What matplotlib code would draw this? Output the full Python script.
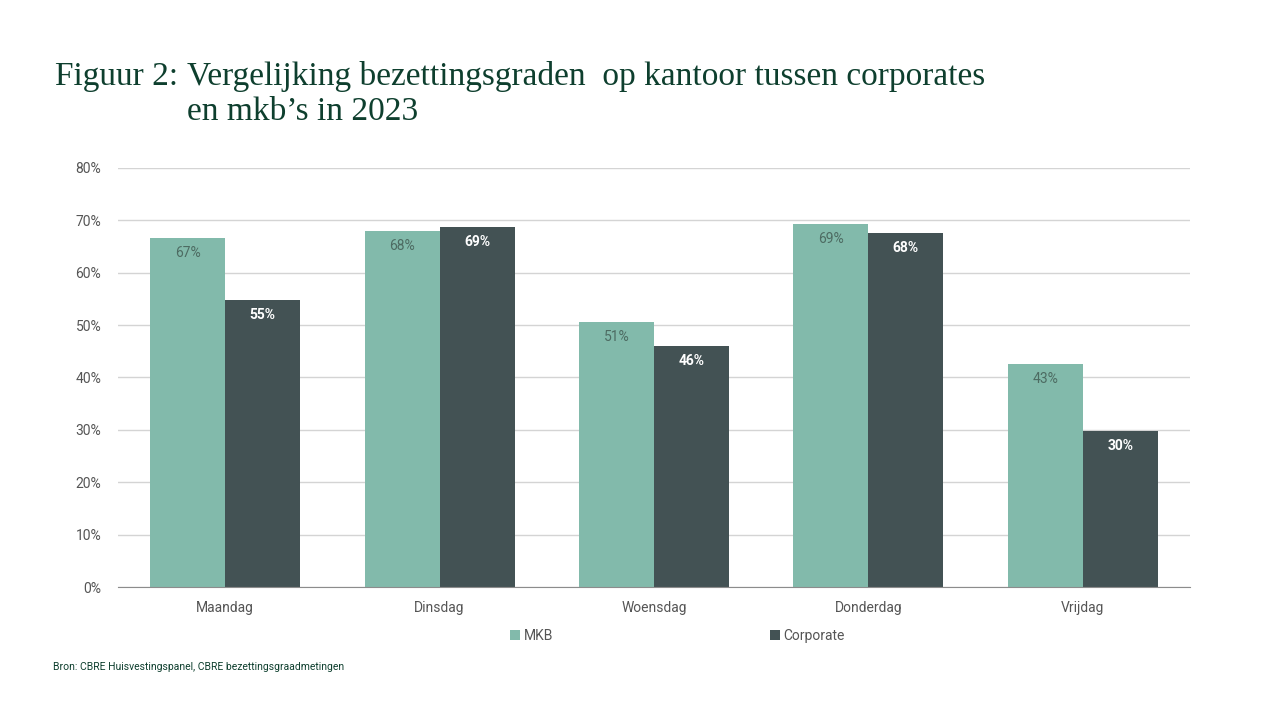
import matplotlib
matplotlib.use("Agg")
import matplotlib.pyplot as plt
import numpy as np

# data
days = ["Maandag", "Dinsdag", "Woensdag", "Donderdag", "Vrijdag"]
mkb = [66.6, 68.0, 50.6, 69.3, 42.6]
corporate = [54.8, 68.8, 46.0, 67.6, 29.8]
yticks = [0, 10, 20, 30, 40, 50, 60, 70, 80]

c_mkb = "#82BAAB"
c_corp = "#435254"
c_title = "#0E3F2E"
c_tick = "#555555"

plt.rcParams["font.family"] = ["Roboto", "DejaVu Sans"]

fig = plt.figure(figsize=(12.8, 7.2), dpi=100)
ax = fig.add_axes([0.0922, 0.1847, 0.8375, 0.582])

x = np.arange(len(days))
w = 0.35
b1 = ax.bar(x - w / 2, mkb, w, color=c_mkb, zorder=2)
b2 = ax.bar(x + w / 2, corporate, w, color=c_corp, zorder=2)

for rect, v in zip(b1, mkb):
    ax.annotate(f"{v:.0f}%", (rect.get_x() + rect.get_width() / 2, v),
                xytext=(0, -11), textcoords="offset points", ha="center", va="center",
                fontsize=10, color="#4D6B62")
for rect, v in zip(b2, corporate):
    ax.annotate(f"{v:.0f}%", (rect.get_x() + rect.get_width() / 2, v),
                xytext=(0, -11), textcoords="offset points", ha="center", va="center",
                fontsize=10, color="white", fontweight="bold")

ax.set_xlim(-0.5, 4.5)
ax.set_ylim(0, 80)
ax.set_yticks(yticks)
ax.set_yticklabels([f"{t}%" for t in yticks])
ax.set_xticks(x)
ax.set_xticklabels(days)
ax.tick_params(axis="both", length=0, labelsize=10, colors=c_tick)
ax.tick_params(axis="y", pad=12)
ax.tick_params(axis="x", pad=10)
ax.yaxis.grid(True, color="#D4D4D4", linewidth=1, zorder=0)
for s in ["top", "right", "left"]:
    ax.spines[s].set_visible(False)
ax.spines["bottom"].set_color("#8C8C8C")
ax.spines["bottom"].set_zorder(3)

leg = fig.legend([b1, b2], ["MKB", "Corporate"], loc="center",
                 bbox_to_anchor=(0.5293, 0.117), ncol=2, frameon=False,
                 handlelength=0.7, handleheight=0.7, handletextpad=0.3,
                 columnspacing=15.6, fontsize=10)
for t in leg.get_texts():
    t.set_color(c_tick)

fig.text(55 / 1280, 1 - 85 / 720, "Figuur 2:", fontsize=24, color=c_title,
         family="Liberation Serif", va="baseline")
fig.text(187 / 1280, 1 - 85 / 720,
         "Vergelijking bezettingsgraden  op kantoor tussen corporates",
         fontsize=24, color=c_title, family="Liberation Serif", va="baseline")
fig.text(187 / 1280, 1 - 120 / 720, "en mkb\u2019s in 2023",
         fontsize=24, color=c_title, family="Liberation Serif", va="baseline")

fig.text(53 / 1280, 1 - 667 / 720,
         "Bron: CBRE Huisvestingspanel, CBRE bezettingsgraadmetingen",
         fontsize=7.5, color=c_title, va="center")

fig.savefig("out.png", dpi=100)
